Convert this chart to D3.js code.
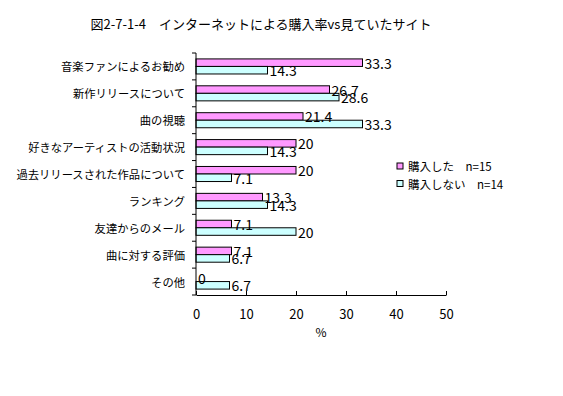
<!DOCTYPE html>
<html>
<head>
<meta charset="utf-8">
<script src="https://cdn.jsdelivr.net/npm/d3@7"></script>
<style>
  body { margin: 0; background: #fff; }
  text { font-family: "Noto Sans CJK JP", "DejaVu Sans", sans-serif; fill: #000; }
</style>
</head>
<body>
<div id="chart"></div>
<script>
// データ
var categories = [
  '音楽ファンによるお勧め',
  '新作リリースについて',
  '曲の視聴',
  '好きなアーティストの活動状況',
  '過去リリースされた作品について',
  'ランキング',
  '友達からのメール',
  '曲に対する評価',
  'その他'
];
var seriesNames = ['購入した　n=15', '購入しない　n=14'];
var bought = [33.3, 26.7, 21.4, 20, 20, 13.3, 7.1, 7.1, 0];
var notBought = [14.3, 28.6, 33.3, 14.3, 7.1, 14.3, 20, 6.7, 6.7];
var xTicks = [0, 10, 20, 30, 40, 50];
var colors = ['#ff99ff', '#ccffff'];

(function() {
  var width = 563;
  var height = 396;

  // 描画領域
  var margin = { top: 53, right: 117, bottom: 101, left: 196 };
  var w = width - margin.left - margin.right;
  var h = height - margin.top - margin.bottom;

  var svg = d3.select('#chart').append('svg')
    .attr('width', width)
    .attr('height', height);

  // タイトル
  svg.append('text')
    .attr('x', 261)
    .attr('y', 25)
    .attr('text-anchor', 'middle')
    .attr('dominant-baseline', 'middle')
    .style('font-size', '13px')
    .text('図2-7-1-4　インターネットによる購入率vs見ていたサイト');

  var g = svg.append('g')
    .attr('transform', 'translate(' + margin.left + ',' + margin.top + ')');

  var x = d3.scaleLinear().domain([0, 50]).range([0, w]);
  var y = d3.scaleBand().domain(categories).range([0, h]).paddingInner(0.44).paddingOuter(0.22);
  var ySub = d3.scaleBand().domain([0, 1]).range([0, y.bandwidth()]);

  var rows = categories.map(function(c, i) {
    return { cat: c, values: [bought[i], notBought[i]] };
  });

  // 棒
  var group = g.selectAll('.cat').data(rows).enter().append('g')
    .attr('class', 'cat')
    .attr('transform', function(d) { return 'translate(0,' + y(d.cat) + ')'; });

  var bar = group.selectAll('.bar')
    .data(function(d) { return d.values.map(function(v, k) { return { v: v, k: k }; }); })
    .enter();

  bar.append('rect')
    .attr('x', x(0))
    .attr('y', function(d) { return ySub(d.k); })
    .attr('width', function(d) { return x(d.v) - x(0); })
    .attr('height', ySub.bandwidth())
    .attr('fill', function(d) { return colors[d.k]; })
    .attr('stroke', '#000')
    .attr('stroke-width', 1);

  bar.append('text')
    .attr('x', function(d) { return x(d.v) + 2; })
    .attr('y', function(d) { return ySub(d.k) + ySub.bandwidth() / 2; })
    .attr('dominant-baseline', 'central')
    .style('font-size', '14px')
    .text(function(d) { return d.v; });

  // 縦軸
  g.append('line')
    .attr('x1', 0).attr('x2', 0)
    .attr('y1', 0).attr('y2', h)
    .attr('stroke', '#000');

  g.selectAll('.ytick').data(d3.range(categories.length + 1)).enter().append('line')
    .attr('x1', -4).attr('x2', 0)
    .attr('y1', function(i) { return i * y.step(); })
    .attr('y2', function(i) { return i * y.step(); })
    .attr('stroke', '#000');

  g.selectAll('.ylabel').data(categories).enter().append('text')
    .attr('x', -11)
    .attr('y', function(d) { return y(d) + y.bandwidth() / 2; })
    .attr('text-anchor', 'end')
    .attr('dominant-baseline', 'central')
    .style('font-size', '11.3px')
    .text(function(d) { return d; });

  // 横軸
  var xAxis = g.append('g')
    .attr('transform', 'translate(0,' + h + ')')
    .call(d3.axisBottom(x).tickValues(xTicks).tickSizeInner(-4).tickSizeOuter(0).tickPadding(15));
  xAxis.select('.domain').attr('stroke', '#000');
  xAxis.selectAll('line').attr('stroke', '#000');
  xAxis.selectAll('text')
    .style('font-size', '13px')
    .style('font-family', '"Noto Sans CJK JP", sans-serif');

  svg.append('text')
    .attr('x', margin.left + w / 2)
    .attr('y', 334)
    .attr('text-anchor', 'middle')
    .attr('dominant-baseline', 'middle')
    .style('font-size', '12px')
    .text('%');

  // 凡例
  var legend = svg.selectAll('.legend').data(seriesNames).enter().append('g')
    .attr('class', 'legend')
    .attr('transform', function(d, i) { return 'translate(397,' + (163 + i * 17.5) + ')'; });

  legend.append('rect')
    .attr('width', 6)
    .attr('height', 6)
    .attr('fill', function(d, i) { return colors[i]; })
    .attr('stroke', '#000');

  legend.append('text')
    .attr('x', 11)
    .attr('y', 3)
    .attr('dominant-baseline', 'central')
    .style('font-size', '11.5px')
    .text(function(d) { return d; });
})();
</script>
</body>
</html>
